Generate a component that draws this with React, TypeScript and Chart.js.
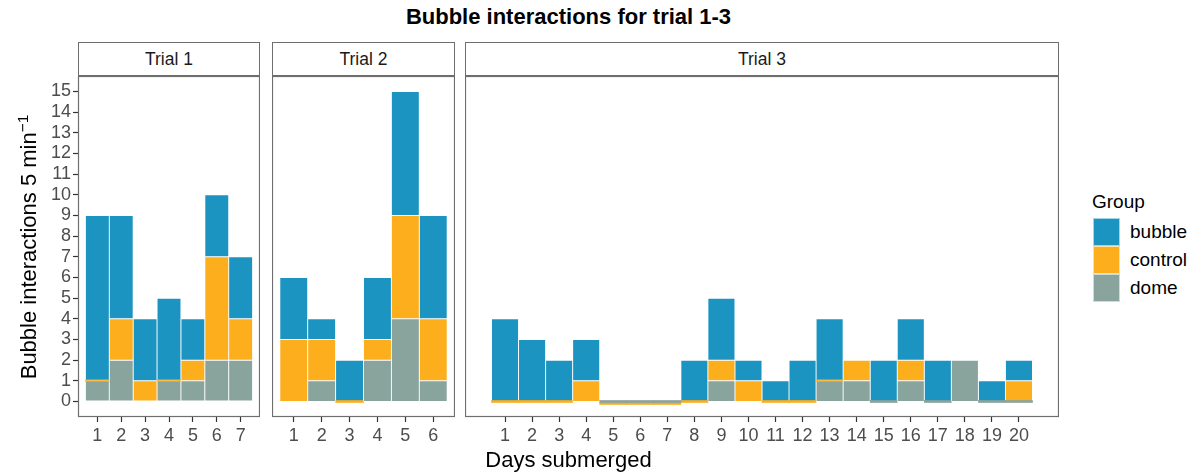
import React, { useEffect, useRef } from "react";
import { Chart, registerables } from "chart.js";

Chart.register(...registerables);

// ---------- data ----------
const groups = ["bubble", "control", "dome"];
const yTicks = [0, 1, 2, 3, 4, 5, 6, 7, 8, 9, 10, 11, 12, 13, 14, 15];

const trial1Days = [1, 2, 3, 4, 5, 6, 7];
const trial1Bubble = [8, 5, 3, 4, 2, 3, 3];
const trial1Control = [0, 2, 1, 0, 1, 5, 2];
const trial1Dome = [1, 2, null, 1, 1, 2, 2];

const trial2Days = [1, 2, 3, 4, 5, 6];
const trial2Bubble = [3, 1, 2, 3, 6, 5];
const trial2Control = [3, 2, 0, 1, 5, 3];
const trial2Dome = [null, 1, null, 2, 4, 1];

const trial3Days = [1, 2, 3, 4, 5, 6, 7, 8, 9, 10, 11, 12, 13, 14, 15, 16, 17, 18, 19, 20];
const trial3Bubble = [4, 3, 2, 2, null, null, null, 2, 3, 1, 1, 2, 3, null, 2, 2, 2, null, 1, 1];
const trial3Control = [0, 0, 0, 1, 0, 0, 0, 0, 1, 1, 0, 0, 0, 1, null, 1, null, null, null, 1];
const trial3Dome = [null, null, null, null, 0, 0, 0, null, 1, null, null, null, 1, 1, 0, 1, 0, 2, 0, 0];

// ---------- style ----------
const FONT = "'Liberation Sans', Arial, Helvetica, sans-serif";
const COLORS: Record<string, string> = {
  bubble: "#1B94C2",
  control: "#FDAE1D",
  dome: "#89A39D",
};
const BORDER = "#6e6e6e";
const TICK_TEXT = "#4d4d4d";

const PLOT_TOP = 76;
const PLOT_H = 341;
const XAXIS_H = 35;
const YAXIS_W = 40;

const panelBorder = {
  id: "panelBorder",
  afterDatasetsDraw(chart: any) {
    const { ctx, chartArea } = chart;
    const { left, top, width, height } = chartArea;
    ctx.save();
    ctx.strokeStyle = BORDER;
    ctx.lineWidth = 1.2;
    ctx.strokeRect(left + 0.5, top + 0.5, width - 1, height - 1);
    ctx.restore();
  },
};

type PanelProps = {
  days: number[];
  bubble: (number | null)[];
  control: (number | null)[];
  dome: (number | null)[];
  xMin: number;
  xMax: number;
  showY: boolean;
  left: number;
  plotW: number;
};

function Panel({ days, bubble, control, dome, xMin, xMax, showY, left, plotW }: PanelProps) {
  const ref = useRef<HTMLCanvasElement>(null);
  const yW = showY ? YAXIS_W : 0;
  const cw = plotW + yW;
  const ch = PLOT_H + XAXIS_H;

  useEffect(() => {
    if (!ref.current) return;
    const mk = (name: string, vals: (number | null)[]) => ({
      label: name,
      data: days.map((d, i) => ({ x: d, y: vals[i] })),
      backgroundColor: COLORS[name],
      borderColor: "rgba(255,255,255,0.6)",
      borderWidth: (c: any) => (c.raw && c.raw.y === 0 ? 0 : 0.8),
      borderSkipped: false,
      minBarLength: 2,
      barPercentage: 1,
      categoryPercentage: 1,
    });
    const chart = new Chart(ref.current, {
      type: "bar",
      data: {
        datasets: [mk("dome", dome), mk("control", control), mk("bubble", bubble)] as any,
      },
      options: {
        animation: false,
        responsive: false,
        devicePixelRatio: 1,
        layout: { padding: 0 },
        plugins: { legend: { display: false }, tooltip: { enabled: false }, title: { display: false } },
        scales: {
          x: {
            type: "linear",
            stacked: true,
            min: xMin,
            max: xMax,
            offset: false,
            afterBuildTicks: (s: any) => {
              s.ticks = days.map((v) => ({ value: v }));
            },
            afterFit: (s: any) => {
              s.height = XAXIS_H;
              s.paddingLeft = 0;
              s.paddingRight = 0;
            },
            grid: {
              display: true,
              offset: false,
              drawOnChartArea: false,
              drawTicks: true,
              tickLength: 5,
              tickColor: "#333333",
              tickWidth: 1.2,
            },
            border: { display: false },
            ticks: {
              autoSkip: false,
              maxRotation: 0,
              minRotation: 0,
              padding: 3,
              color: TICK_TEXT,
              font: { family: FONT, size: 18 },
              callback: (v: any) => String(v),
            },
          },
          y: {
            type: "linear",
            stacked: true,
            display: showY,
            min: -0.75,
            max: 15.75,
            afterBuildTicks: (s: any) => {
              s.ticks = yTicks.map((v) => ({ value: v }));
            },
            afterFit: (s: any) => {
              s.width = showY ? YAXIS_W : 0;
              s.paddingTop = 0;
              s.paddingBottom = 0;
            },
            grid: {
              display: true,
              offset: false,
              drawOnChartArea: false,
              drawTicks: true,
              tickLength: 5,
              tickColor: "#333333",
              tickWidth: 1.2,
            },
            border: { display: false },
            ticks: {
              autoSkip: false,
              padding: 2,
              color: TICK_TEXT,
              font: { family: FONT, size: 18 },
              callback: (v: any) => String(v),
            },
          },
        },
      } as any,
      plugins: [panelBorder],
    });
    return () => chart.destroy();
  }, []);

  return (
    <canvas
      ref={ref}
      width={cw}
      height={ch}
      style={{ position: "absolute", left: left - yW, top: PLOT_TOP, width: cw, height: ch }}
    />
  );
}

function Strip({ left, width, text }: { left: number; width: number; text: string }) {
  return (
    <div
      style={{
        position: "absolute",
        left,
        top: 42,
        width,
        height: 34,
        boxSizing: "border-box",
        border: `1.2px solid ${BORDER}`,
        background: "#ffffff",
        color: "#1a1a1a",
        fontSize: 17.5,
        lineHeight: "32px",
        textAlign: "center",
      }}
    >
      {text}
    </div>
  );
}

export default function App() {
  const panels = [
    { name: "Trial 1", days: trial1Days, bubble: trial1Bubble, control: trial1Control, dome: trial1Dome, xMin: 0.19, xMax: 7.81, left: 78, plotW: 182 },
    { name: "Trial 2", days: trial2Days, bubble: trial2Bubble, control: trial2Control, dome: trial2Dome, xMin: 0.22, xMax: 6.78, left: 272, plotW: 183 },
    { name: "Trial 3", days: trial3Days, bubble: trial3Bubble, control: trial3Control, dome: trial3Dome, xMin: -0.48, xMax: 21.48, left: 465, plotW: 594 },
  ];
  return (
    <div
      style={{
        position: "absolute",
        left: 0,
        top: 0,
        width: 1195,
        height: 475,
        background: "#ffffff",
        fontFamily: FONT,
        overflow: "hidden",
      }}
    >
      <div
        style={{
          position: "absolute",
          left: 0,
          top: 4,
          width: 1137,
          textAlign: "center",
          fontWeight: "bold",
          fontSize: 22,
          lineHeight: "26px",
          color: "#000",
        }}
      >
        Bubble interactions for trial 1-3
      </div>

      {panels.map((p, i) => (
        <Strip key={"s" + i} left={p.left} width={p.plotW} text={p.name} />
      ))}
      {panels.map((p, i) => (
        <Panel
          key={"p" + i}
          days={p.days}
          bubble={p.bubble}
          control={p.control}
          dome={p.dome}
          xMin={p.xMin}
          xMax={p.xMax}
          showY={i === 0}
          left={p.left}
          plotW={p.plotW}
        />
      ))}

      <div
        style={{
          position: "absolute",
          left: 29 - 170,
          top: 247 - 14,
          width: 340,
          height: 28,
          lineHeight: "28px",
          textAlign: "center",
          fontSize: 22,
          color: "#000",
          transform: "rotate(-90deg)",
          whiteSpace: "nowrap",
        }}
      >
        Bubble interactions 5 min<sup style={{ fontSize: "0.7em", lineHeight: 0 }}>−1</sup>
      </div>

      <div
        style={{
          position: "absolute",
          left: 0,
          top: 447,
          width: 1137,
          textAlign: "center",
          fontSize: 22,
          lineHeight: "26px",
          color: "#000",
        }}
      >
        Days submerged
      </div>

      <div style={{ position: "absolute", left: 1092, top: 190, fontSize: 19, lineHeight: "24px", color: "#000" }}>
        Group
      </div>
      {groups.map((g, i) => (
        <React.Fragment key={g}>
          <div
            style={{
              position: "absolute",
              left: 1093,
              top: 218 + i * 28,
              width: 27,
              height: 28,
              boxSizing: "border-box",
              background: COLORS[g],
              border: "1px solid rgba(255,255,255,0.6)",
            }}
          />
          <div
            style={{
              position: "absolute",
              left: 1130,
              top: 218 + i * 28,
              height: 28,
              lineHeight: "28px",
              fontSize: 19,
              color: "#000",
            }}
          >
            {g}
          </div>
        </React.Fragment>
      ))}
    </div>
  );
}
